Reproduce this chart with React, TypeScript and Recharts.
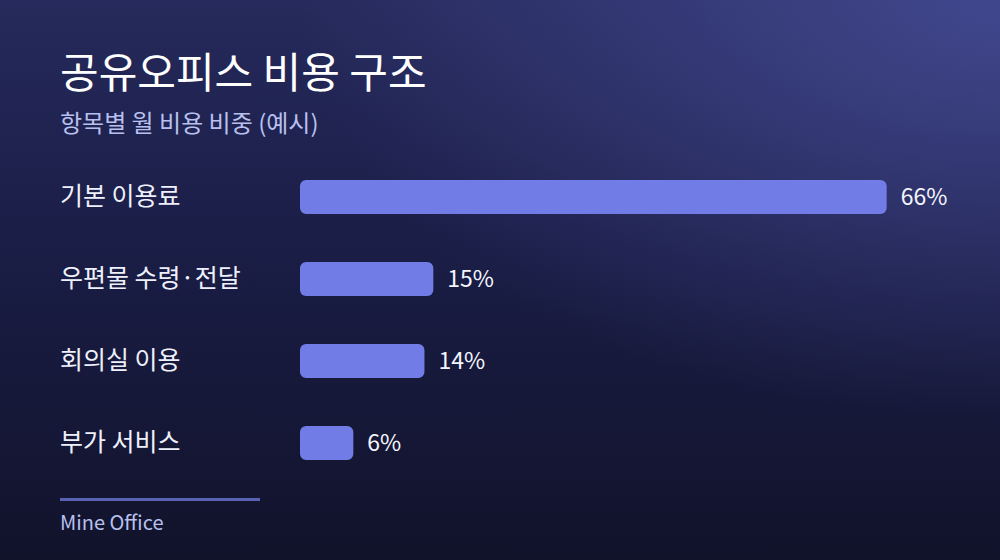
import { BarChart, Bar, XAxis, YAxis, LabelList } from "recharts";

const categories = ["기본 이용료", "우편물 수령·전달", "회의실 이용", "부가 서비스"];
const shares = [66, 15, 14, 6];

const data = categories.map((name, i) => ({ name, value: shares[i] }));

const FONT = "'Noto Sans CJK KR', 'Noto Sans', sans-serif";

function CategoryTick(props: any) {
  const { y, payload } = props;
  return (
    <text x={60} y={y} dy={8} textAnchor="start" fill="#eef0fb" fontSize={25} fontFamily={FONT}>
      {payload.value}
    </text>
  );
}

export default function App() {
  return (
    <div
      style={{
        position: "absolute",
        left: 0,
        top: 0,
        width: 1000,
        height: 560,
        overflow: "hidden",
        fontFamily: FONT,
        background:
          "radial-gradient(ellipse 700px 420px at 100% 0%, rgba(70,76,150,0.85), rgba(70,76,150,0) 100%), linear-gradient(180deg, #262a5c 0%, #1a1d45 45%, #11132b 100%)",
      }}
    >
      <div style={{ position: "absolute", left: 60, top: 42, color: "#ffffff", fontSize: 42, fontWeight: 400, lineHeight: "56px" }}>
        공유오피스 비용 구조
      </div>
      <div style={{ position: "absolute", left: 60, top: 105, color: "#b9c0f0", fontSize: 24, lineHeight: "34px" }}>
        항목별 월 비용 비중 (예시)
      </div>
      <div style={{ position: "absolute", left: 0, top: 0 }}>
        <BarChart
          width={1000}
          height={560}
          data={data}
          layout="vertical"
          margin={{ top: 156, right: 60, bottom: 76, left: 0 }}
        >
          <XAxis type="number" domain={[0, 72]} hide />
          <YAxis
            type="category"
            dataKey="name"
            width={300}
            axisLine={false}
            tickLine={false}
            tick={<CategoryTick />}
          />
          <Bar dataKey="value" fill="#717ce6" barSize={34} radius={6} isAnimationActive={false}>
            <LabelList
              dataKey="value"
              position="right"
              offset={14}
              formatter={(v: any) => `${v}%`}
              fill="#f4f5ff"
              fontSize={23}
              fontFamily={FONT}
            />
          </Bar>
        </BarChart>
      </div>
      <div style={{ position: "absolute", left: 60, top: 498, width: 200, height: 3, background: "#5b61b4" }} />
      <div style={{ position: "absolute", left: 60, top: 507, color: "#b8c0ee", fontSize: 20, lineHeight: "30px" }}>
        Mine Office
      </div>
    </div>
  );
}
